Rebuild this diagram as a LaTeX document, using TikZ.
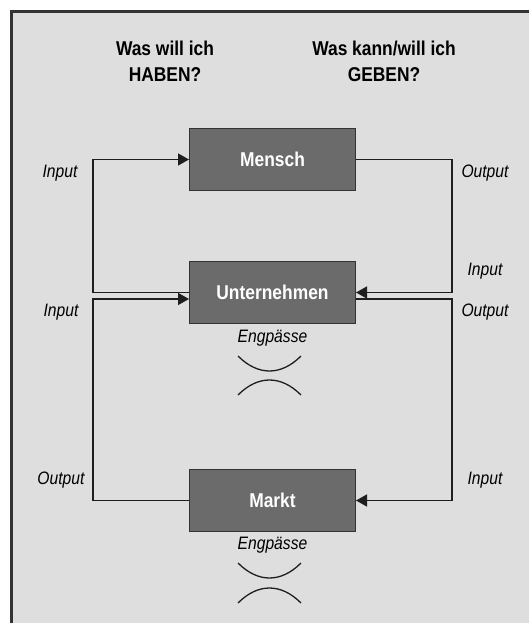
\documentclass[tikz,border=0pt]{standalone}
\usepackage{fontspec}
\setmainfont{Liberation Sans}[FakeStretch=0.87]
\usetikzlibrary{arrows.meta}
\definecolor{bggray}{HTML}{DEDEDE}
\definecolor{boxgray}{HTML}{6B6B6B}
\definecolor{rimgray}{HTML}{333333}
\definecolor{linegray}{HTML}{1E1E1E}

\begin{document}
\begin{tikzpicture}[x=1pt, y=-1pt,
    box/.style={rectangle, draw=rimgray, line width=1.3pt, fill=boxgray, minimum width=165.7pt, minimum height=61.7pt, text=white, font=\bfseries\fontsize{20}{24}\selectfont},
    lbl/.style={anchor=base, font=\itshape\fontsize{18}{22}\selectfont},
    head/.style={align=center, font=\bfseries\fontsize{20}{26}\selectfont},
    flow/.style={->, >={Triangle[length=11pt, width=12pt]}, line width=1.4pt, draw=linegray},
    bow/.style={line width=1.3pt, draw=linegray}]
            \useasboundingbox (0,0) rectangle (528,623);
            \fill[bggray] (11,11) rectangle (540,640);
            \draw[rimgray, line width=2.6pt] (11.3,640) -- (11.3,11.3) -- (540,11.3);

            \node[head] (haben) at (165,61) {Was will ich\\HABEN?};
            \node[head] (geben) at (384,61) {Was kann/will ich\\GEBEN?};

            \node[box] (mensch) at (272.5,159.5) {Mensch};
            \node[box] (unt) at (272.5,292.5) {Unternehmen};
            \node[box] (markt) at (272.5,500.5) {Markt};

            \node[lbl] (in1) at (60,177) {Input};
            \node[lbl] (out1) at (485,177) {Output};
            \node[lbl] (in2) at (485,275) {Input};
            \node[lbl] (in3) at (61,316) {Input};
            \node[lbl] (out2) at (485,316) {Output};
            \node[lbl] (out3) at (61,484) {Output};
            \node[lbl] (in4) at (485,484) {Input};
            \node[lbl] (eng1) at (272.5,342) {Engpässe};
            \node[lbl] (eng2) at (272.5,549) {Engpässe};

            \draw[flow] (unt.west) -- ++(-96,0) |- (mensch.west);
            \draw[flow] (mensch.east) -- ++(96,0) |- (unt.east);
            \draw[flow] (markt.west) -- ++(-96,0) |- ([yshift=-6.5pt]unt.west);
            \draw[flow] ([yshift=-6.5pt]unt.east) -- ++(96,0) |- (markt.east);

            \draw[bow] (238,356) .. controls (258,376) and (281,376) .. (301,356);
            \draw[bow] (238,395) .. controls (258,375) and (281,375) .. (301,395);
            \draw[bow] (238,563) .. controls (258,583) and (281,583) .. (301,563);
            \draw[bow] (238,603) .. controls (258,583) and (281,583) .. (301,603);
        \end{tikzpicture}
\end{document}
